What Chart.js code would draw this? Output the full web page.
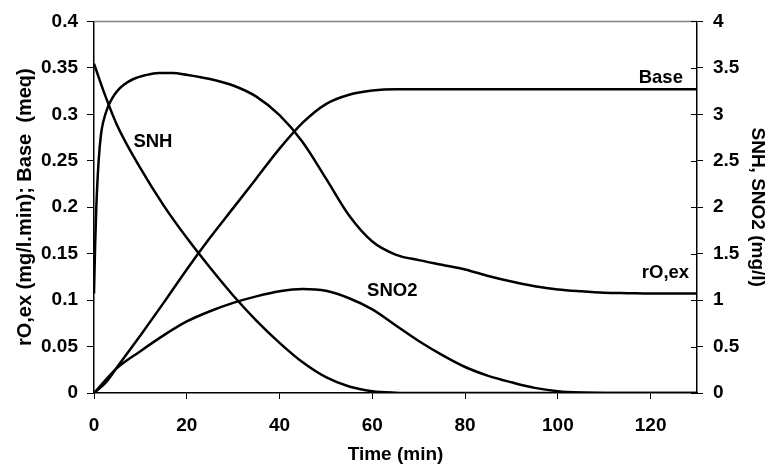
<!DOCTYPE html>
<html>
<head>
<meta charset="utf-8">
<script src="https://cdn.jsdelivr.net/npm/chart.js@4.4.1/dist/chart.umd.min.js"></script>
<style>
  html, body { margin: 0; padding: 0; background: #fff; }
  #wrap { width: 776px; height: 469px; }
</style>
</head>
<body>
<div id="wrap"><canvas id="chart" width="776" height="469"></canvas></div>
<script>
// time axis (min)
const xTicks = [0, 20, 40, 60, 80, 100, 120];
const yLeftTicks = [0, 0.05, 0.1, 0.15, 0.2, 0.25, 0.3, 0.35, 0.4];
const yRightTicks = [0, 0.5, 1, 1.5, 2, 2.5, 3, 3.5, 4];

// rO,ex (mg/l.min) - left axis
const roTime = [0, 0.25, 0.5, 1, 1.5, 2, 3, 4, 5, 6.5, 8.5, 11, 14, 17, 20, 25, 30, 35, 40, 45, 50, 55, 60, 65, 70, 75, 80, 85, 90, 95, 100, 105, 110, 115, 122, 130];
const roValues = [0.107, 0.16, 0.2, 0.25, 0.278, 0.292, 0.308, 0.318, 0.325, 0.332, 0.338, 0.342, 0.3445, 0.3445, 0.3425, 0.338, 0.331, 0.319, 0.299, 0.27, 0.231, 0.191, 0.163, 0.149, 0.143, 0.138, 0.133, 0.126, 0.12, 0.115, 0.1115, 0.1095, 0.108, 0.1075, 0.107, 0.107];

// Base (meq) - left axis
const baseTime = [0, 2.5, 5, 10, 15, 20, 25, 30, 35, 40, 45, 50, 55, 60, 65, 70, 130];
const baseValues = [0, 0.011, 0.028, 0.062, 0.097, 0.133, 0.167, 0.199, 0.231, 0.263, 0.291, 0.311, 0.321, 0.3255, 0.327, 0.327, 0.327];

// SNH (mg/l) - right axis
const snhTime = [0, 2.5, 5, 10, 15, 20, 25, 30, 35, 40, 45, 50, 55, 60, 65, 70, 130];
const snhValues = [3.545, 3.19, 2.88, 2.42, 2.02, 1.67, 1.35, 1.05, 0.78, 0.54, 0.33, 0.17, 0.07, 0.02, 0.004, 0, 0];

// SNO2 (mg/l) - right axis
const sno2Time = [0, 5, 10, 15, 20, 25, 30, 35, 40, 45, 50, 55, 60, 65, 70, 75, 80, 85, 90, 95, 100, 105, 110, 130];
const sno2Values = [0, 0.27, 0.45, 0.62, 0.77, 0.88, 0.97, 1.04, 1.095, 1.12, 1.1, 1.02, 0.9, 0.73, 0.56, 0.41, 0.28, 0.185, 0.115, 0.055, 0.02, 0.005, 0, 0];

const FONT = '"Liberation Sans", Arial, sans-serif';

function pts(xs, ys) {
  return xs.map((x, i) => ({ x: x, y: ys[i] }));
}

function curve(label, xs, ys, axis) {
  return {
    label: label,
    data: pts(xs, ys),
    yAxisID: axis,
    borderColor: "#000",
    borderWidth: 2.5,
    pointRadius: 0,
    fill: false,
    cubicInterpolationMode: "monotone",
  };
}

function fmt(v) {
  return String(+Number(v).toFixed(2));
}

// in-plot labels, anchored in data units
const curveLabels = [
  { text: "SNH", x: 12.7, y: 0.27, axis: "y" },
  { text: "SNO2", x: 64.3, y: 0.11, axis: "y" },
  { text: "Base", x: 122.2, y: 0.339, axis: "y" },
  { text: "rO,ex", x: 123.2, y: 0.129, axis: "y" },
];

const decor = {
  id: "decor",
  afterDraw(chart) {
    const ctx = chart.ctx;
    const a = chart.chartArea;
    ctx.save();
    // grey top frame
    ctx.strokeStyle = "#808080";
    ctx.lineWidth = 1.5;
    ctx.beginPath();
    ctx.moveTo(a.left, a.top);
    ctx.lineTo(a.right, a.top);
    ctx.stroke();
    // inward half of right-axis ticks
    const y2 = chart.scales.y2;
    ctx.strokeStyle = "#000";
    ctx.lineWidth = 1;
    y2.ticks.forEach((t) => {
      const py = Math.round(y2.getPixelForValue(t.value)) + 0.5;
      ctx.beginPath();
      ctx.moveTo(a.right - 6, py);
      ctx.lineTo(a.right, py);
      ctx.stroke();
    });
    // curve labels
    ctx.fillStyle = "#000";
    ctx.font = "bold 18.5px " + FONT;
    ctx.textAlign = "center";
    ctx.textBaseline = "middle";
    curveLabels.forEach((l) => {
      const px = chart.scales.x.getPixelForValue(l.x);
      const py = chart.scales[l.axis].getPixelForValue(l.y);
      ctx.fillText(l.text, px, py);
    });
    ctx.restore();
  },
};

const tickFont = { family: FONT, size: 19, weight: "bold" };

new Chart(document.getElementById("chart"), {
  type: "line",
  data: {
    datasets: [
      curve("rO,ex", roTime, roValues, "y"),
      curve("Base", baseTime, baseValues, "y"),
      curve("SNH", snhTime, snhValues, "y2"),
      curve("SNO2", sno2Time, sno2Values, "y2"),
    ],
  },
  options: {
    responsive: false,
    animation: false,
    events: [],
    layout: { padding: { top: 18, left: 0, right: 0, bottom: 0 } },
    plugins: { legend: { display: false }, tooltip: { enabled: false } },
    scales: {
      x: {
        type: "linear",
        position: "bottom",
        min: 0,
        max: 130,
        afterBuildTicks: (s) => { s.ticks = xTicks.map((v) => ({ value: v })); },
        afterFit: (s) => { s.height = 76; },
        grid: { drawOnChartArea: false, drawTicks: true, tickLength: 6, color: "#000", lineWidth: 1 },
        border: { color: "#000", width: 1.5 },
        ticks: { font: tickFont, color: "#000", padding: 15, maxRotation: 0, callback: fmt },
        title: { display: true, text: "Time (min)", font: { family: FONT, size: 19, weight: "bold" }, color: "#000", padding: { top: 0, bottom: 3 } },
      },
      y: {
        type: "linear",
        position: "left",
        min: 0,
        max: 0.4,
        afterBuildTicks: (s) => { s.ticks = yLeftTicks.map((v) => ({ value: v })); },
        afterFit: (s) => { s.width = 94; },
        grid: { drawOnChartArea: false, drawTicks: true, tickLength: 7, color: "#000", lineWidth: 1 },
        border: { color: "#000", width: 1.5 },
        ticks: { font: tickFont, color: "#000", padding: 9, callback: fmt },
        title: { display: true, text: "rO,ex (mg/l.min); Base  (meq)", font: { family: FONT, size: 20, weight: "bold" }, color: "#000", padding: { top: 13, bottom: 0 } },
      },
      y2: {
        type: "linear",
        position: "right",
        min: 0,
        max: 4,
        afterBuildTicks: (s) => { s.ticks = yRightTicks.map((v) => ({ value: v })); },
        afterFit: (s) => { s.width = 79; },
        grid: { drawOnChartArea: false, drawTicks: true, tickLength: 6, color: "#000", lineWidth: 1 },
        border: { color: "#000", width: 1.5 },
        ticks: { font: tickFont, color: "#000", padding: 10, callback: fmt },
        title: { display: true, text: "SNH, SNO2 (mg/l)", font: { family: FONT, size: 19, weight: "bold" }, color: "#000", padding: { top: 7, bottom: 0 } },
      },
    },
  },
  plugins: [decor],
});
</script>
</body>
</html>
